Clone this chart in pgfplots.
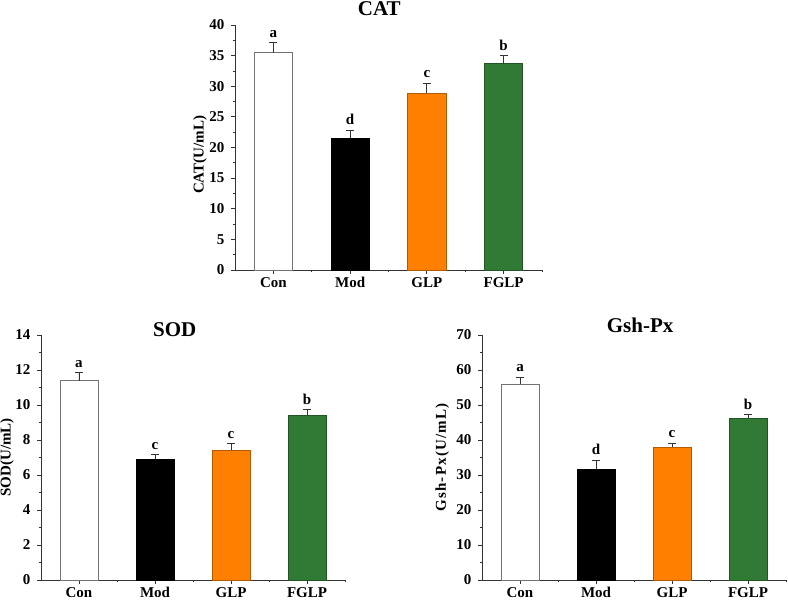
\documentclass[border=0pt]{standalone}
\usepackage{pgfplots}
\pgfplotsset{compat=1.18}
\usepackage{fontspec}
\setmainfont{Liberation Serif}
\definecolor{myorange}{HTML}{FF8000}
\definecolor{mygreen}{HTML}{317A35}
\definecolor{axgray}{HTML}{333333}
\pgfplotsset{
  panel/.style={
    scale only axis, width=305pt, height=245pt, anchor=south west,
    axis x line*=bottom, axis y line*=left,
    axis line style={axgray, line width=0.8pt, -},
    every tick/.style={axgray, line width=0.8pt},
    tick align=outside, major tick length=4pt, minor tick length=2.5pt,
    xmin=-0.5, xmax=3.5, ymin=0,
    xtick={0,1,2,3}, xticklabels={Con,Mod,GLP,FGLP},
    minor xtick={0.5,1.5,2.5,3.5},
    minor y tick num=1,
    /pgf/number format/assume math mode=true,
    ticklabel style={font=\fontsize{15}{15}\selectfont\bfseries},
    xticklabel style={inner sep=1pt, yshift=-2pt},
    yticklabel style={xshift=-3pt},
    title style={font=\fontsize{21}{21}\selectfont\bfseries, anchor=center, inner sep=0pt, yshift=-6pt},
    every axis y label/.style={rotate=90, anchor=center, font=\fontsize{15}{15}\selectfont\bfseries},
    clip=false,
  },
  barE/.style={ybar, bar width=0.5, bar shift=0pt, line width=0.8pt,
    error bars/y dir=plus, error bars/y explicit,
    error bars/error bar style={black!80, line width=0.8pt},
    error bars/error mark options={rotate=90, black!80, mark size=4pt, line width=0.8pt}},
  lettersty/.style={draw=none, mark=none, nodes near coords, point meta=explicit symbolic,
    nodes near coords style={anchor=south, font=\fontsize{15}{15}\selectfont\bfseries, inner sep=1pt, yshift=4pt}},
}
\begin{document}
\begin{tikzpicture}
\path[use as bounding box] (0,0) rectangle (788pt,601pt);
% CAT
\begin{axis}[panel, at={(235pt,331pt)}, width=307pt, ymax=40, ytick distance=5,
  title={CAT}, title style={at={(axis description cs:0.47,1.065)}},
  ylabel={CAT(U/mL)}, every axis y label/.append style={at={(axis description cs:-0.114,0.47)}}]
\addplot[barE, fill=white, draw=black!55] coordinates {(0,35.5) +- (0,1.6)};
\addplot[barE, fill=black, draw=black] coordinates {(1,21.5) +- (0,1.3)};
\addplot[barE, fill=myorange, draw=myorange!70!black] coordinates {(2,28.9) +- (0,1.6)};
\addplot[barE, fill=mygreen, draw=mygreen!70!black] coordinates {(3,33.7) +- (0,1.3)};
\addplot[lettersty] table[meta=l] {
x y l
0 37.1 a
1 22.8 d
2 30.5 c
3 35.0 b
};
\end{axis}
% SOD
\begin{axis}[panel, at={(41pt,21pt)}, width=304pt, ymax=14, ytick distance=2,
  title={SOD}, title style={at={(axis description cs:0.44,1.02)}},
  ylabel={SOD(U/mL)}, every axis y label/.append style={at={(axis description cs:-0.112,0.5)}}]
\addplot[barE, fill=white, draw=black!55] coordinates {(0,11.38) +- (0,0.47)};
\addplot[barE, fill=black, draw=black] coordinates {(1,6.91) +- (0,0.25)};
\addplot[barE, fill=myorange, draw=myorange!70!black] coordinates {(2,7.42) +- (0,0.38)};
\addplot[barE, fill=mygreen, draw=mygreen!70!black] coordinates {(3,9.38) +- (0,0.34)};
\addplot[lettersty] table[meta=l] {
x y l
0 11.85 a
1 7.16 c
2 7.80 c
3 9.72 b
};
\end{axis}
% Gsh-Px
\begin{axis}[panel, at={(482pt,21pt)}, width=304pt, ymax=70, ytick distance=10,
  title={Gsh-Px}, title style={at={(axis description cs:0.52,1.04)}},
  ylabel={\addfontfeatures{LetterSpace=8}Gsh-Px(U/mL)}, every axis y label/.append style={at={(axis description cs:-0.131,0.5)}}]
\addplot[barE, fill=white, draw=black!55] coordinates {(0,55.97) +- (0,2.0)};
\addplot[barE, fill=black, draw=black] coordinates {(1,31.7) +- (0,2.5)};
\addplot[barE, fill=myorange, draw=myorange!70!black] coordinates {(2,37.95) +- (0,1.15)};
\addplot[barE, fill=mygreen, draw=mygreen!70!black] coordinates {(3,46.3) +- (0,1.0)};
\addplot[lettersty] table[meta=l] {
x y l
0 58.0 a
1 34.2 d
2 39.1 c
3 47.3 b
};
\end{axis}
\end{tikzpicture}
\end{document}
